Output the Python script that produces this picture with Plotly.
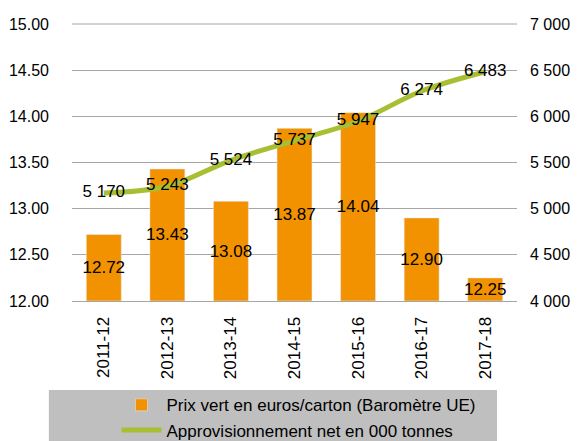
import plotly.graph_objects as go

saisons = ["2011-12", "2012-13", "2013-14", "2014-15", "2015-16", "2016-17", "2017-18"]
prix_vert = [12.72, 13.43, 13.08, 13.87, 14.04, 12.90, 12.25]
approvisionnement = [5170, 5243, 5524, 5737, 5947, 6274, 6483]

FONT = "Liberation Sans Narrow, Liberation Sans, Arial, sans-serif"
ORANGE = "#f39200"
VERT = "#a8bf33"
GRILLE = "#a6a6a6"
PRIX_MIN = 12  # les barres partent du bas de l'axe, comme dans Excel

fig = go.Figure()

# barres : prix vert
fig.add_trace(go.Bar(
    x=saisons,
    y=[v - PRIX_MIN for v in prix_vert],
    base=PRIX_MIN,
    name="Prix vert en euros/carton (Baromètre UE)",
    marker=dict(color=ORANGE),
    width=0.55,
    text=[f"{v:.2f}" for v in prix_vert],
    textposition="inside",
    insidetextanchor="middle",
    constraintext="none",
    textangle=0,
    textfont=dict(family=FONT, size=17, color="black"),
    hovertext=[f"{v:.2f}" for v in prix_vert],
    hoverinfo="x+text",
))

# courbe : approvisionnement
fig.add_trace(go.Scatter(
    x=saisons,
    y=approvisionnement,
    yaxis="y2",
    name="Approvisionnement net en 000 tonnes",
    mode="lines+text",
    line=dict(color=VERT, width=5, shape="spline"),
    texttemplate="%{y:,d}",
    textposition="middle center",
    textfont=dict(family=FONT, size=17, color="black"),
))

# la page ajoute 8 px de marge autour du graphique : on retranche 8 px
fig.update_layout(
    width=573,
    height=433,
    separators=". ",
    font=dict(family=FONT, size=16, color="black"),
    paper_bgcolor="white",
    plot_bgcolor="white",
    margin=dict(l=64, r=64, t=16, b=140, autoexpand=False),
    xaxis=dict(
        type="category",
        tickangle=-90,
        showgrid=False,
        showline=True,
        linecolor=GRILLE,
        linewidth=1,
        ticks="",
        tickfont=dict(size=17),
        ticklabelstandoff=8,
        automargin=False,
    ),
    yaxis=dict(
        range=[12, 15],
        dtick=0.5,
        tickformat=".2f",
        showgrid=True,
        gridcolor=GRILLE,
        gridwidth=1,
        zeroline=False,
        ticks="",
        ticklabelstandoff=22,
        automargin=False,
    ),
    yaxis2=dict(
        range=[4000, 7000],
        dtick=500,
        tickformat=",d",
        overlaying="y",
        side="right",
        showgrid=False,
        zeroline=False,
        ticks="",
        ticklabelstandoff=12,
        automargin=False,
    ),
    showlegend=True,
    legend=dict(
        orientation="v",
        x=0.1,
        xanchor="left",
        yref="container",
        y=0.124,
        yanchor="top",
        bgcolor="rgba(0,0,0,0)",
        font=dict(size=17),
        tracegroupgap=0,
        itemwidth=40,
    ),
    shapes=[
        # fond gris de la légende
        dict(
            type="rect",
            xref="paper", yref="paper",
            x0=-0.052, x1=0.955,
            y0=-0.505, y1=-0.321,
            fillcolor="#bfbfbf",
            line=dict(width=0),
            layer="below",
        ),
        # ligne de grille du haut (15.00)
        dict(
            type="line",
            xref="paper", yref="paper",
            x0=0, x1=1, y0=1, y1=1,
            line=dict(color=GRILLE, width=1),
            layer="below",
        ),
    ],
)

fig.write_html("out.html")
